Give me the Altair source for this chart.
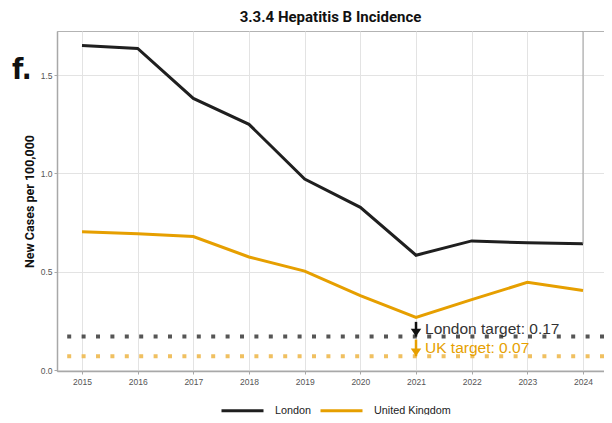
import altair as alt
import pandas as pd

years = [2015, 2016, 2017, 2018, 2019, 2020, 2021, 2022, 2023, 2024]
london = [1.651, 1.636, 1.382, 1.250, 0.972, 0.828, 0.584, 0.657, 0.647, 0.642]
uk = [0.703, 0.693, 0.679, 0.575, 0.503, 0.378, 0.268, 0.358, 0.446, 0.405]

series_names = ["London", "United Kingdom"]
series_colors = ["#1f1f1f", "#E69F00"]
target_values = [0.17, 0.07]
target_labels = ["London target: 0.17", "UK target: 0.07"]
target_colors = ["#555555", "#F0C060"]
text_colors = ["#333333", "#E69F00"]
arrow_colors = ["#111111", "#E69F00"]
arrow_tops = [0.245, 0.155]
arrow_year = 2021

XDOM = [2014.551, 2024.377]
YDOM = [-0.005, 1.725]

df = pd.DataFrame(
    {
        "year": years * 2,
        "value": london + uk,
        "series": ["London"] * len(years) + ["United Kingdom"] * len(years),
    }
)
tg = pd.DataFrame(
    {
        "target": target_values,
        "label": target_labels,
        "series": series_names,
        "top": arrow_tops,
        "year": [arrow_year] * 2,
        "dotcolor": target_colors,
        "textcolor": text_colors,
        "arrowcolor": arrow_colors,
    }
)
vline = pd.DataFrame({"year": [years[-1]], "low": [london[-1]], "high": [YDOM[1]]})

xs = alt.Scale(domain=XDOM, nice=False, zero=False)
ys = alt.Scale(domain=YDOM, nice=False, zero=False)

base_x = alt.X(
    "year:Q",
    scale=xs,
    title=None,
    axis=alt.Axis(values=years, format="d"),
)
base_y = alt.Y(
    "value:Q",
    scale=ys,
    title="New Cases per 100,000",
    axis=alt.Axis(values=[0, 0.5, 1.0, 1.5], format=".1f"),
)

lines = (
    alt.Chart(df)
    .mark_line(strokeWidth=3, strokeJoin="miter")
    .encode(
        x=base_x,
        y=base_y,
        color=alt.Color(
            "series:N",
            scale=alt.Scale(domain=series_names, range=series_colors),
            legend=alt.Legend(
                title=None,
                orient="none",
                direction="horizontal",
                legendX=163,
                legendY=357,
                symbolType="stroke",
                symbolSize=1764,
                symbolStrokeWidth=3,
                labelFontSize=10.8,
                labelFont="Liberation Sans",
                labelColor="#222222",
                labelOffset=10,
                labelBaseline="middle",
                columnPadding=2,
            ),
        ),
    )
)

vrule = (
    alt.Chart(vline)
    .mark_rule(color="#a0a0a0", strokeWidth=1)
    .encode(x=alt.X("year:Q", scale=xs), y=alt.Y("low:Q", scale=ys), y2="high:Q")
)

dots = (
    alt.Chart(tg)
    .mark_rule(strokeWidth=4, strokeDash=[4, 10.4], strokeCap="butt")
    .encode(y=alt.Y("target:Q", scale=ys), color=alt.Color("dotcolor:N", scale=None))
)

shafts = (
    alt.Chart(tg)
    .mark_rule(strokeWidth=2.5)
    .encode(
        x=alt.X("year:Q", scale=xs),
        y=alt.Y("top:Q", scale=ys),
        y2=alt.Y2("target:Q"),
        color=alt.Color("arrowcolor:N", scale=None),
    )
)

heads = (
    alt.Chart(tg)
    .mark_point(shape="M-1,-1.5L1,-1.5L0,0Z", filled=True, size=110, opacity=1, strokeWidth=0)
    .encode(
        x=alt.X("year:Q", scale=xs),
        y=alt.Y("target:Q", scale=ys),
        color=alt.Color("arrowcolor:N", scale=None),
    )
)

labels = (
    alt.Chart(tg)
    .mark_text(align="left", baseline="middle", dx=9, dy=-8, fontSize=15.5, font="Liberation Sans")
    .encode(
        x=alt.X("year:Q", scale=xs),
        y=alt.Y("target:Q", scale=ys),
        text="label:N",
        color=alt.Color("textcolor:N", scale=None),
    )
)

flabel = (
    alt.Chart(pd.DataFrame({"t": ["f."]}))
    .mark_text(align="left", baseline="middle", fontSize=29, fontWeight="bold", font="DejaVu Sans Condensed", color="#111111")
    .encode(x=alt.value(-45), y=alt.value(39), text="t:N")
)

chart = (
    alt.layer(dots, lines, vrule, shafts, heads, labels, flabel)
    .properties(
        width=547,
        height=340,
        padding={"left": 49, "top": 23, "right": 0, "bottom": 44},
        autosize=alt.AutoSizeParams(type="none"),
        title=alt.TitleParams(
            "3.3.4 Hepatitis B Incidence",
            font="Roboto",
            fontSize=15,
            fontWeight="bold",
            color="#111111",
            offset=6,
        ),
    )
    .configure_view(stroke="#b3b3b3", strokeWidth=1)
    .configure_axis(
        grid=True,
        gridColor="#e3e3e3",
        gridWidth=1,
        domainColor="#a8a8a8",
        domainWidth=1.5,
        tickColor="#a8a8a8",
        tickSize=3,
        labelFont="Liberation Sans",
        labelFontSize=8.5,
        labelColor="#555555",
        labelPadding=2,
        titleFont="Roboto",
        titleFontSize=12.5,
        titleFontWeight="bold",
        titleColor="#111111",
    )
    .configure_axisY(titlePadding=4)
    .configure_axisX(labelPadding=3)
)

chart.save("out.html", embed_options={"renderer": "svg", "actions": False})
